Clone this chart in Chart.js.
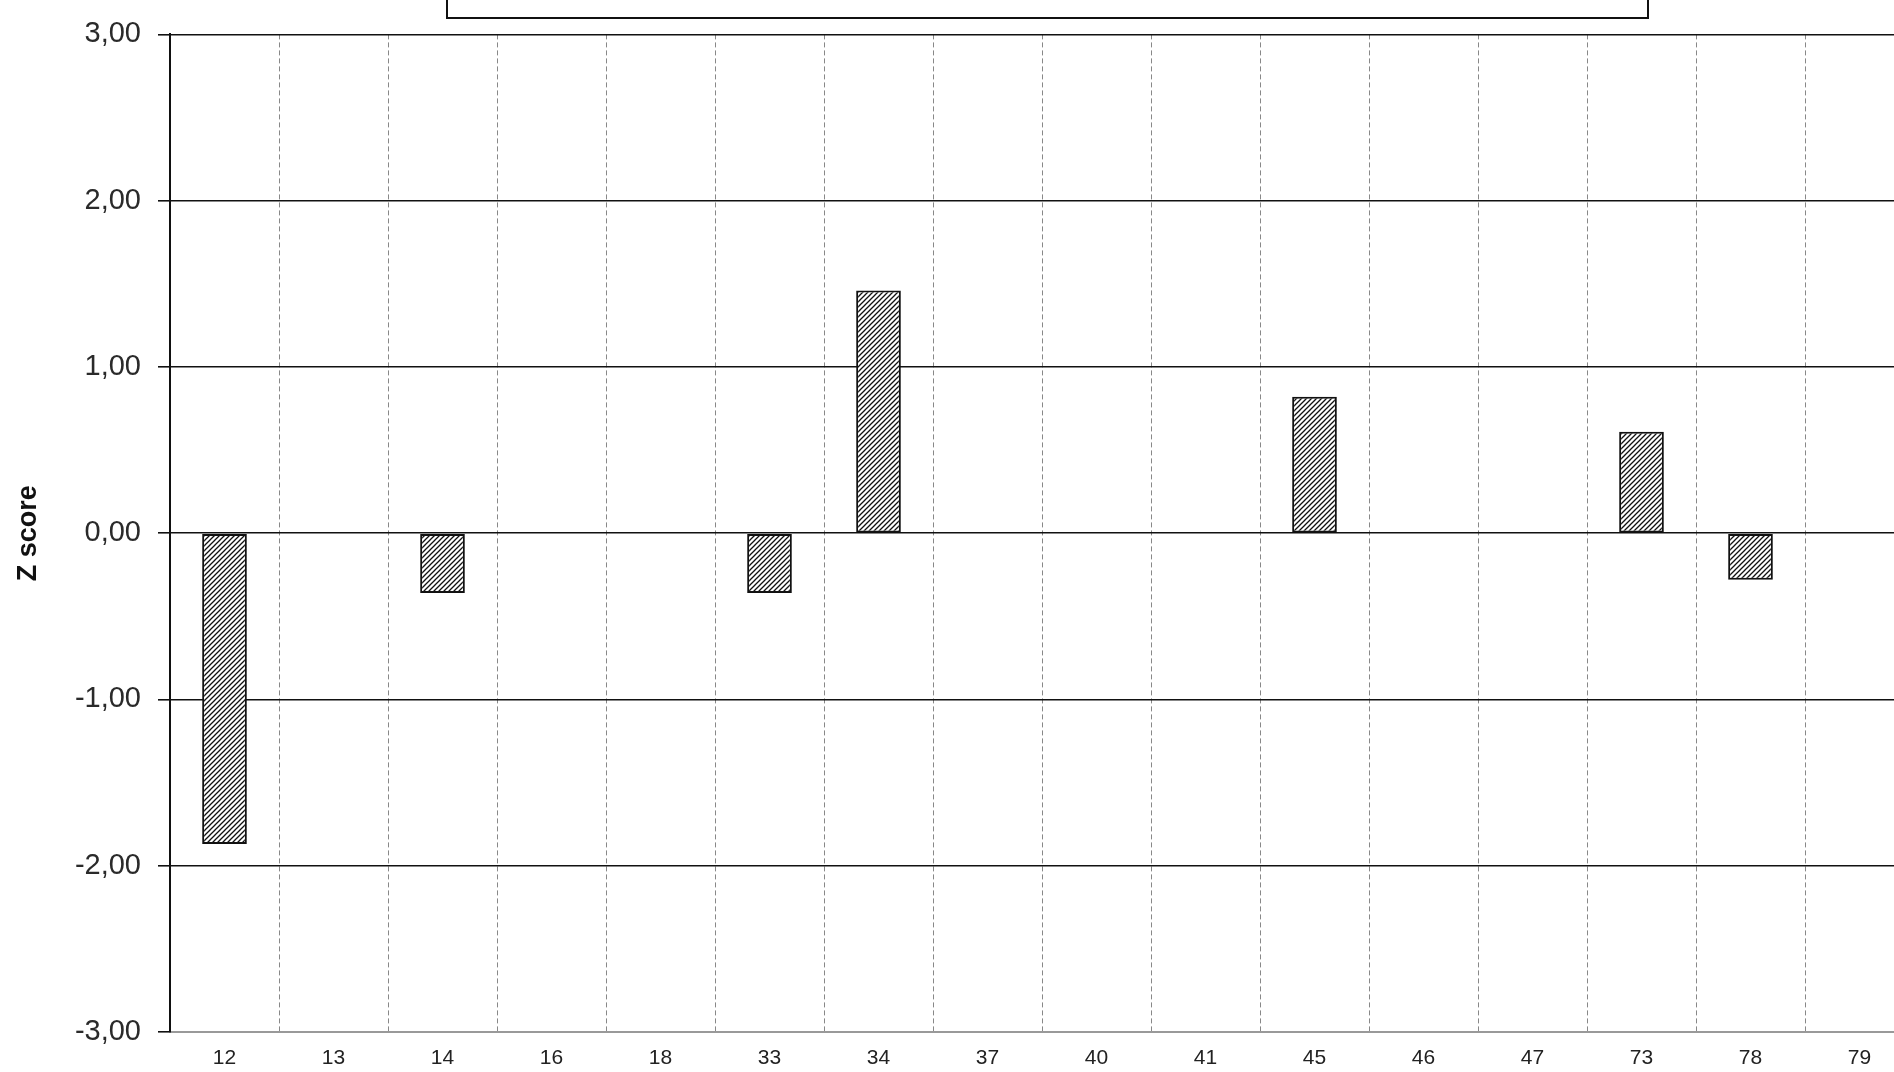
<!DOCTYPE html>
<html>
<head>
<meta charset="utf-8">
<script src="https://cdn.jsdelivr.net/npm/chart.js@4"></script>
<style>
  html, body { margin: 0; padding: 0; background: #fff; overflow: hidden; }
  body { width: 1894px; height: 1072px; position: relative; }
  #wrap { position: absolute; left: 0; top: 0; width: 1916px; height: 1072px; }
  #topBox {
    position: absolute; left: 446px; top: -12px; width: 1199px; height: 27px;
    border: 2px solid #111; background: #fff;
  }
</style>
</head>
<body>
<div id="wrap"><canvas id="zChart" width="1916" height="1072"></canvas></div>
<div id="topBox"></div>
<script>
const categories = ['12', '13', '14', '16', '18', '33', '34', '37', '40', '41', '45', '46', '47', '73', '78', '79'];
const zScores = [-1.87, null, -0.36, null, null, -0.36, 1.46, null, null, null, 0.82, null, null, 0.61, -0.28, null];
const yTicks = [-3, -2, -1, 0, 1, 2, 3];

// diagonal hatch fill like the original bars
function makeHatch() {
  const c = document.createElement('canvas');
  c.width = 5; c.height = 5;
  const g = c.getContext('2d');
  g.fillStyle = '#fff';
  g.fillRect(0, 0, 5, 5);
  g.strokeStyle = '#111';
  g.lineWidth = 1.3;
  g.beginPath();
  g.moveTo(-1, 6); g.lineTo(6, -1);
  g.moveTo(-1, 1); g.lineTo(1, -1);
  g.moveTo(4, 6); g.lineTo(6, 4);
  g.stroke();
  return g.createPattern(c, 'repeat');
}

const ctx = document.getElementById('zChart').getContext('2d');

new Chart(ctx, {
  type: 'bar',
  data: {
    labels: categories,
    datasets: [{
      label: 'Z score',
      data: zScores,
      backgroundColor: makeHatch(),
      borderColor: '#111',
      borderWidth: 2,
      borderSkipped: false,
      barPercentage: 0.41,
      categoryPercentage: 1
    }]
  },
  options: {
    responsive: false,
    animation: false,
    devicePixelRatio: 1,
    layout: { padding: { top: 32, right: 2, bottom: 0, left: 0 } },
    plugins: {
      legend: { display: false },
      tooltip: { enabled: false }
    },
    scales: {
      x: {
        grid: {
          color: '#888',
          lineWidth: 1,
          drawTicks: false,
          offset: true
        },
        border: { color: '#999', width: 2, dash: [5, 3] },
        ticks: {
          color: '#222',
          padding: 14,
          font: { family: 'Liberation Sans, Arial, sans-serif', size: 21 }
        },
        afterFit: s => { s.height = 40; }
      },
      y: {
        min: -3,
        max: 3,
        afterBuildTicks: s => { s.ticks = yTicks.map(v => ({ value: v })); },
        grid: { color: '#111', lineWidth: 1.6, tickLength: 12 },
        border: { color: '#111', width: 2 },
        ticks: {
          color: '#2a2a2a',
          padding: 17,
          font: { family: 'Liberation Sans, Arial, sans-serif', size: 29 },
          callback: v => v.toFixed(2).replace('.', ',')
        },
        title: {
          display: true,
          text: 'Z score',
          color: '#111',
          padding: { top: 12, bottom: 0 },
          font: { family: 'Liberation Sans, Arial, sans-serif', size: 27, weight: 'bold' }
        },
        afterFit: s => { s.width = 170; }
      }
    }
  }
});
</script>
</body>
</html>
